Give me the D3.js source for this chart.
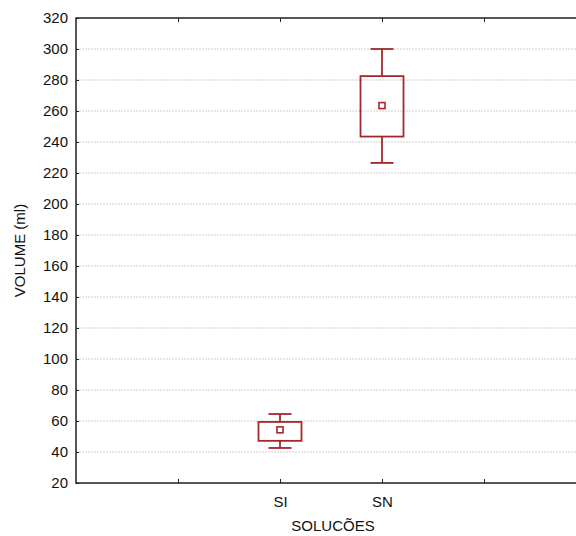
<!DOCTYPE html>
<html>
<head>
<meta charset="utf-8">
<script src="https://cdn.jsdelivr.net/npm/d3@7"></script>
<style>
  body { margin: 0; background: #fff; }
  text { font-family: "Liberation Sans", Arial, sans-serif; fill: #111; }
</style>
</head>
<body>
<div id="chart"></div>
<script>
// categories on the x axis (empty slots are unlabelled ticks)
const slots = ["", "", "SI", "SN", "", ""];
const groups = ["SI", "SN"];
const whiskerLow = [42.6, 226.5];
const boxLow = [47.2, 243.5];
const means = [54.3, 263.5];
const boxHigh = [59.4, 282.5];
const whiskerHigh = [64.5, 300];
const yTicks = d3.range(20, 321, 20);

const width = 576, height = 536;
const margin = { top: 18, right: -10, bottom: 53, left: 76 };
const color = "#a3282c";

const svg = d3.select("#chart").append("svg")
  .attr("width", width)
  .attr("height", height);

const x = d3.scaleLinear()
  .domain([0, 5])
  .range([margin.left, width - margin.right]);

const y = d3.scaleLinear()
  .domain([20, 320])
  .range([height - margin.bottom, margin.top]);

// grid
svg.append("g")
  .selectAll("line")
  .data(yTicks.slice(1, -1))
  .join("line")
  .attr("x1", margin.left)
  .attr("x2", width)
  .attr("y1", d => y(d))
  .attr("y2", d => y(d))
  .attr("stroke", "#cfcfcf")
  .attr("stroke-width", 1)
  .attr("stroke-dasharray", "2,1");

// y axis (ticks pointing inward)
const yAxis = svg.append("g")
  .attr("transform", `translate(${margin.left},0)`)
  .call(d3.axisLeft(y).tickValues(yTicks).tickSize(-3).tickPadding(8));
yAxis.select(".domain").remove();
yAxis.selectAll("text").style("font-size", "15px");
yAxis.selectAll("line").attr("stroke", "#222");

// bottom axis
const xb = svg.append("g")
  .attr("transform", `translate(0,${y(20)})`)
  .call(d3.axisBottom(x).tickValues([1, 2, 3, 4]).tickFormat(i => slots[i]).tickSize(-4).tickPadding(13));
xb.select(".domain").remove();
xb.selectAll("text").style("font-size", "15px");
xb.selectAll("line").attr("stroke", "#222");

// top axis
const xt = svg.append("g")
  .attr("transform", `translate(0,${y(320)})`)
  .call(d3.axisTop(x).tickValues([1, 2, 3, 4]).tickFormat("").tickSize(-4));
xt.select(".domain").remove();
xt.selectAll("line").attr("stroke", "#222");

// frame
svg.append("path")
  .attr("d", `M${width},${y(320)}H${margin.left}V${y(20)}H${width}`)
  .attr("fill", "none")
  .attr("stroke", "#222")
  .attr("stroke-width", 1.5);

// box plots
const boxW = 43, capW = 23, meanS = 6;
const data = groups.map((g, i) => ({
  g, pos: slots.indexOf(g),
  lo: whiskerLow[i], q1: boxLow[i], m: means[i], q3: boxHigh[i], hi: whiskerHigh[i]
}));

const bp = svg.append("g")
  .selectAll("g")
  .data(data)
  .join("g")
  .attr("fill", "none")
  .attr("stroke", color)
  .attr("stroke-width", 1.8);

bp.append("line")
  .attr("x1", d => x(d.pos)).attr("x2", d => x(d.pos))
  .attr("y1", d => y(d.hi)).attr("y2", d => y(d.q3));
bp.append("line")
  .attr("x1", d => x(d.pos)).attr("x2", d => x(d.pos))
  .attr("y1", d => y(d.q1)).attr("y2", d => y(d.lo));
bp.append("line")
  .attr("x1", d => x(d.pos) - capW / 2).attr("x2", d => x(d.pos) + capW / 2)
  .attr("y1", d => y(d.hi)).attr("y2", d => y(d.hi));
bp.append("line")
  .attr("x1", d => x(d.pos) - capW / 2).attr("x2", d => x(d.pos) + capW / 2)
  .attr("y1", d => y(d.lo)).attr("y2", d => y(d.lo));
bp.append("rect")
  .attr("x", d => x(d.pos) - boxW / 2)
  .attr("width", boxW)
  .attr("y", d => y(d.q3))
  .attr("height", d => y(d.q1) - y(d.q3));
bp.append("rect")
  .attr("x", d => x(d.pos) - meanS / 2)
  .attr("y", d => y(d.m) - meanS / 2)
  .attr("width", meanS)
  .attr("height", meanS)
  .attr("stroke-width", 1.6);

// axis titles
svg.append("text")
  .attr("x", 333)
  .attr("y", 531)
  .attr("text-anchor", "middle")
  .style("font-size", "15px")
  .text("SOLUCÕES");

svg.append("text")
  .attr("transform", `translate(25,${(y(20) + y(320)) / 2}) rotate(-90)`)
  .attr("text-anchor", "middle")
  .style("font-size", "15px")
  .text("VOLUME (ml)");
</script>
</body>
</html>
